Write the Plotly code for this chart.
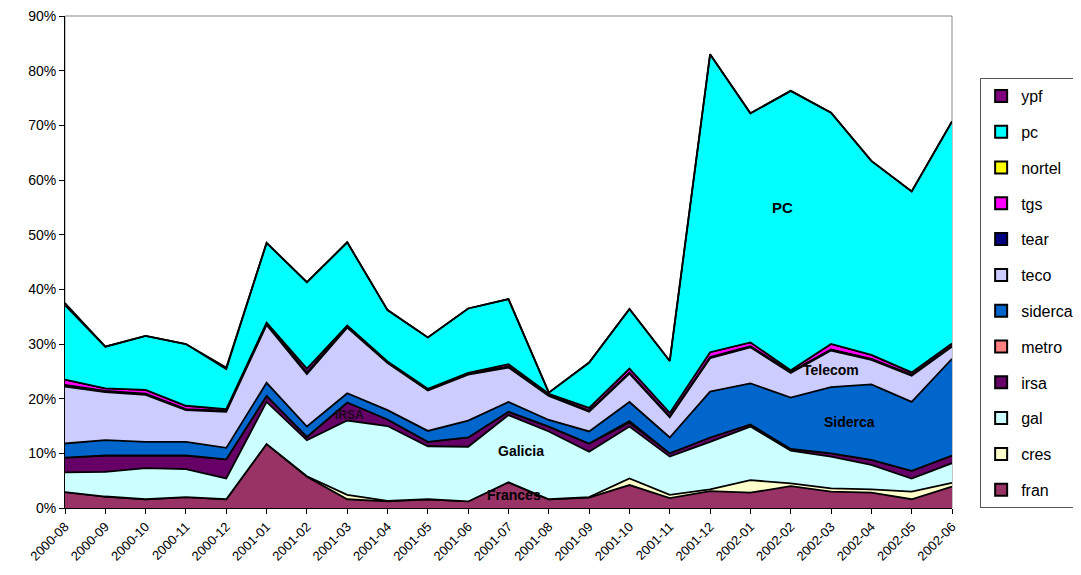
import plotly.graph_objects as go

months = ["2000-08", "2000-09", "2000-10", "2000-11", "2000-12",
          "2001-01", "2001-02", "2001-03", "2001-04", "2001-05", "2001-06",
          "2001-07", "2001-08", "2001-09", "2001-10", "2001-11", "2001-12",
          "2002-01", "2002-02", "2002-03", "2002-04", "2002-05", "2002-06"]

fran = [2.9, 2.1, 1.6, 2.0, 1.6, 11.7, 5.7, 1.6, 1.2, 1.6, 1.2, 4.7, 1.6, 1.9, 4.2, 1.8, 3.1, 2.8, 4.0, 3.0, 2.8, 1.6, 3.9]
cres = [0, 0, 0, 0, 0, 0, 0.1, 0.8, 0.1, 0, 0, 0, 0, 0.1, 1.2, 0.6, 0.3, 2.3, 0.5, 0.6, 0.6, 1.4, 0.7]
gal = [3.6, 4.5, 5.7, 5.1, 3.8, 7.7, 6.6, 13.6, 13.7, 9.7, 10.0, 12.3, 12.4, 8.3, 9.5, 7.0, 8.7, 9.8, 6.0, 5.8, 4.5, 2.4, 3.6]
irsa = [2.7, 3.0, 2.3, 2.5, 3.5, 1.1, 0.6, 3.3, 1.2, 0.8, 1.7, 0.6, 0.9, 1.5, 0.7, 0.6, 0.8, 0.4, 0.3, 0.6, 0.9, 1.4, 1.4]
metro = [0, 0, 0, 0, 0, 0, 0, 0, 0, 0, 0, 0, 0, 0, 0.3, 0, 0, 0, 0, 0, 0, 0, 0]
siderca = [2.6, 2.8, 2.5, 2.5, 2.1, 2.4, 1.9, 1.7, 1.7, 2.0, 3.1, 1.8, 1.2, 2.2, 3.5, 2.9, 8.4, 7.5, 9.4, 12.1, 13.8, 12.6, 17.7]
teco = [10.4, 8.8, 8.6, 5.8, 6.6, 10.6, 9.6, 12.0, 8.6, 7.4, 8.4, 6.3, 4.4, 3.6, 5.2, 3.7, 6.1, 6.6, 4.5, 6.7, 4.5, 4.8, 2.2]
tear = [0.3, 0.2, 0.2, 0.2, 0.2, 0.2, 0.3, 0.2, 0.2, 0.2, 0.2, 0.2, 0.2, 0.2, 0.2, 0.2, 0.2, 0.2, 0.2, 0.2, 0.2, 0.2, 0.2]
tgs = [1.0, 0.5, 0.7, 0.6, 0.3, 0.2, 0.7, 0.2, 0.1, 0.1, 0.1, 0.4, 0.2, 0.5, 0.7, 0.6, 0.9, 0.7, 0.3, 1.0, 0.7, 0.4, 0.4]
nortel = [0] * 23
pc = [13.6, 7.6, 9.9, 11.3, 7.3, 14.6, 15.8, 15.2, 9.4, 9.4, 11.8, 11.9, 0.2, 8.3, 10.9, 9.5, 54.5, 41.9, 51.1, 42.3, 35.5, 33.1, 40.6]
ypf = [0.4, 0, 0, 0, 0.3, 0, 0, 0, 0, 0, 0, 0, 0, 0, 0, 0, 0, 0, 0, 0, 0, 0, 0]

series = [
    ("fran", fran, "#993366"),
    ("cres", cres, "#FFFFCC"),
    ("gal", gal, "#CCFFFF"),
    ("irsa", irsa, "#660066"),
    ("metro", metro, "#FF8080"),
    ("siderca", siderca, "#0066CC"),
    ("teco", teco, "#CCCCFF"),
    ("tear", tear, "#000080"),
    ("tgs", tgs, "#FF00FF"),
    ("nortel", nortel, "#FFFF00"),
    ("pc", pc, "#00FFFF"),
    ("ypf", ypf, "#800080"),
]

fig = go.Figure()
for name, vals, col in series:
    fig.add_trace(go.Scatter(
        x=months, y=[v / 100 for v in vals], name=name, mode="lines",
        stackgroup="one", fillcolor=col, showlegend=False,
        line=dict(color="black", width=1.8),
    ))
# legend entries as square swatches, top-of-stack first
for name, vals, col in reversed(series):
    fig.add_trace(go.Scatter(
        x=[None], y=[None], name=name, mode="markers", legendgroup=name,
        marker=dict(symbol="square", size=11, color=col, line=dict(color="black", width=1)),
    ))

labels = [
    ("PC", 17.8, 0.549, 15, "black"),
    ("Telecom", 19.0, 0.252, 14, "black"),
    ("Siderca", 19.45, 0.157, 14, "black"),
    ("IRSA", 7.05, 0.170, 12, "#1a0a1a"),
    ("Galicia", 11.3, 0.104, 14, "black"),
    ("Frances", 11.14, 0.024, 14, "black"),
]
for txt, xx, yy, fs, fc in labels:
    fig.add_annotation(x=xx, y=yy, text="<b>%s</b>" % txt, showarrow=False,
                       font=dict(family="Liberation Sans, Arial", size=fs, color=fc))

fig.update_layout(
    width=1073, height=567,
    margin=dict(l=57, r=129, t=8, b=67),
    paper_bgcolor="white", plot_bgcolor="white",
    font=dict(family="Liberation Sans, Arial", size=14, color="black"),
    showlegend=True,
    legend=dict(traceorder="grouped", xref="container", yref="container",
                x=0.906, xanchor="left", y=0.8765, yanchor="top",
                bordercolor="#555555", borderwidth=1, font=dict(size=16),
                tracegroupgap=12, itemwidth=30, itemsizing="constant",
                maxheight=520),
    xaxis=dict(type="category", range=[0, 22], tickangle=-45, showline=True,
               linecolor="black", linewidth=1, ticks="outside", ticklen=5,
               tickcolor="black", showgrid=False, mirror=False, automargin=False,
               tickfont=dict(size=13)),
    yaxis=dict(range=[0, 0.9], dtick=0.1, tickformat=".0%", showline=True,
               linecolor="black", linewidth=1, ticks="outside", ticklen=5,
               tickcolor="black", showgrid=False, zeroline=False, automargin=False,
               ticklabeloverflow="allow", tickfont=dict(size=14)),
)
fig.add_shape(type="rect", xref="paper", yref="paper", x0=0, y0=0, x1=1, y1=1,
              line=dict(color="#888888", width=1), layer="below")

fig.write_html("out.html")
